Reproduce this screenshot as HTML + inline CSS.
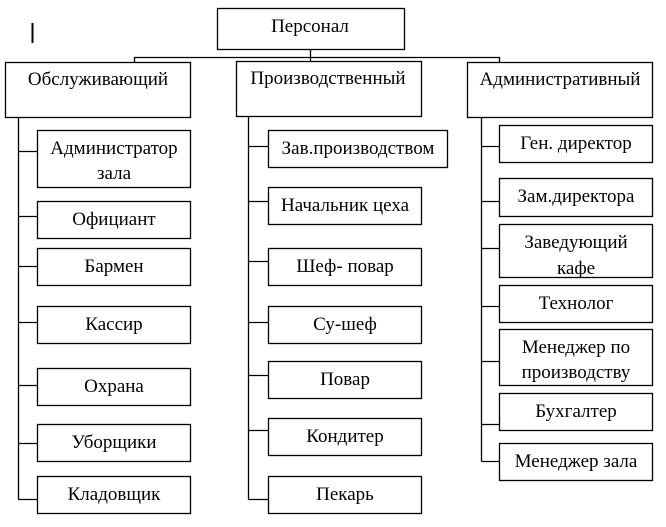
<!DOCTYPE html>
<html><head><meta charset="utf-8"><style>body{margin:0;background:#fff}svg{display:block}text{font-family:"Liberation Serif",serif;font-size:19px;fill:#000;text-anchor:middle}</style></head><body>
<svg width="666" height="527" viewBox="0 0 666 527">
<g fill="none" stroke="#000" stroke-width="1.3">
<line x1="32.5" y1="23" x2="32.5" y2="43" stroke-width="2"/>
<rect x="217.5" y="8.5" width="187" height="41"/>
<path d="M310.5 49.5V57.5M134.5 62V57.5H499.5V62M310.5 57.5V61"/>
<rect x="5.5" y="62.5" width="185" height="55"/>
<rect x="236.5" y="61.5" width="185" height="55"/>
<rect x="467.5" y="62.5" width="185" height="55"/>
<path d="M18.5 117.5V499.5M18.5 151.5H37M18.5 216.5H37M18.5 266.5H37M18.5 322.5H37M18.5 385.5H37M18.5 443.5H37M18.5 499.5H37"/>
<rect x="37.5" y="130.5" width="153" height="57"/>
<rect x="37.5" y="201.5" width="153" height="37"/>
<rect x="37.5" y="248.5" width="153" height="37"/>
<rect x="37.5" y="306.5" width="153" height="37"/>
<rect x="37.5" y="368.5" width="153" height="37"/>
<rect x="37.5" y="424.5" width="153" height="37"/>
<rect x="37.5" y="476.5" width="153" height="37"/>
<path d="M248.5 116.5V499.5M248.5 146.5H268M248.5 201.5H268M248.5 261.5H268M248.5 322.5H268M248.5 375.5H268M248.5 430.5H268M248.5 499.5H268"/>
<rect x="268.5" y="130.5" width="179" height="37"/>
<rect x="268.5" y="187.5" width="153" height="37"/>
<rect x="268.5" y="248.5" width="153" height="37"/>
<rect x="268.5" y="306.5" width="153" height="37"/>
<rect x="268.5" y="361.5" width="153" height="37"/>
<rect x="268.5" y="418.5" width="153" height="37"/>
<rect x="268.5" y="476.5" width="153" height="37"/>
<path d="M481.5 117.5V461.5M481.5 146.5H499M481.5 201.5H499M481.5 248.5H499M481.5 306.5H499M481.5 361.5H499M481.5 424.5H499M481.5 461.5H499"/>
<rect x="499.5" y="125.5" width="153" height="37"/>
<rect x="499.5" y="178.5" width="153" height="38"/>
<rect x="499.5" y="224.5" width="153" height="53"/>
<rect x="499.5" y="285.5" width="153" height="37"/>
<rect x="499.5" y="329.5" width="153" height="56"/>
<rect x="499.5" y="393.5" width="153" height="37"/>
<rect x="499.5" y="443.5" width="153" height="37"/>
</g>
<text x="310" y="32">Персонал</text>
<text x="98" y="85">Обслуживающий</text>
<text x="328" y="84">Производственный</text>
<text x="560" y="85">Административный</text>
<text x="114" y="154">Администратор</text>
<text x="114" y="179">зала</text>
<text x="114" y="225">Официант</text>
<text x="114" y="272">Бармен</text>
<text x="114" y="330">Кассир</text>
<text x="114" y="392">Охрана</text>
<text x="114" y="448">Уборщики</text>
<text x="114" y="500">Кладовщик</text>
<text x="358" y="154">Зав.производством</text>
<text x="345" y="211">Начальник цеха</text>
<text x="345" y="272">Шеф- повар</text>
<text x="345" y="330">Су-шеф</text>
<text x="345" y="385">Повар</text>
<text x="345" y="442">Кондитер</text>
<text x="345" y="500">Пекарь</text>
<text x="576" y="149">Ген. директор</text>
<text x="576" y="202">Зам.директора</text>
<text x="576" y="248">Заведующий</text>
<text x="576" y="274">кафе</text>
<text x="576" y="309">Технолог</text>
<text x="576" y="353">Менеджер по</text>
<text x="576" y="378">производству</text>
<text x="576" y="417">Бухгалтер</text>
<text x="576" y="467">Менеджер зала</text>
</svg>
</body></html>
